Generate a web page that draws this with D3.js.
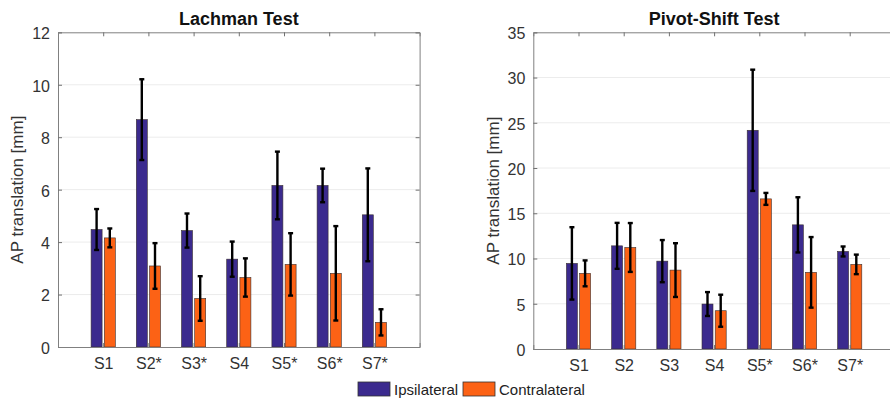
<!DOCTYPE html>
<html>
<head>
<meta charset="utf-8">
<script src="https://cdn.jsdelivr.net/npm/d3@7"></script>
<style>
  body { margin: 0; background: #fff; }
  text { font-family: "Liberation Sans", Arial, sans-serif; }
</style>
</head>
<body>
<div id="chart"></div>
<script>
// data
var lachmanCats = ['S1', 'S2*', 'S3*', 'S4', 'S5*', 'S6*', 'S7*'];
var lachmanIpsi = [4.48, 8.67, 4.44, 3.35, 6.16, 6.16, 5.04];
var lachmanIpsiErr = [0.78, 1.54, 0.65, 0.67, 1.29, 0.64, 1.77];
var lachmanContra = [4.16, 3.09, 1.85, 2.65, 3.15, 2.81, 0.94];
var lachmanContraErr = [0.36, 0.87, 0.85, 0.73, 1.19, 1.8, 0.5];
var lachmanTicks = [0, 2, 4, 6, 8, 10, 12];

var pivotCats = ['S1', 'S2', 'S3', 'S4', 'S5*', 'S6*', 'S7*'];
var pivotIpsi = [9.46, 11.4, 9.71, 4.97, 24.17, 13.72, 10.78];
var pivotIpsiErr = [4.0, 2.54, 2.33, 1.32, 6.7, 3.05, 0.55];
var pivotContra = [8.36, 11.22, 8.72, 4.23, 16.59, 8.47, 9.35];
var pivotContraErr = [1.43, 2.7, 2.97, 1.77, 0.66, 3.9, 1.08];
var pivotTicks = [0, 5, 10, 15, 20, 25, 30, 35];

var seriesNames = ['Ipsilateral', 'Contralateral'];
var colors = ['#3b2a8e', '#fc6215'];

var width = 890, height = 401;
var svg = d3.select('#chart').append('svg')
  .attr('width', width).attr('height', height);

function drawPanel(opts) {
  var x = d3.scaleLinear().domain([0, 8]).range([opts.x0, opts.x0 + 8 * 45.2]);
  var y = d3.scaleLinear().domain([0, opts.ymax]).range([opts.y1, opts.y0]);
  var g = svg.append('g');
  var x1 = opts.x0 + 8 * 45.2;

  // grid
  g.selectAll('.grid').data(opts.ticks.slice(1, -1)).enter().append('line')
    .attr('x1', opts.x0).attr('x2', x1)
    .attr('y1', function(d) { return y(d); }).attr('y2', function(d) { return y(d); })
    .attr('stroke', '#ececec').attr('stroke-width', 1);

  var bw = 11, off = 6.6;
  var series = [
    { vals: opts.ipsi, err: opts.ipsiErr, dx: -off, color: colors[0] },
    { vals: opts.contra, err: opts.contraErr, dx: off, color: colors[1] }
  ];
  series.forEach(function(s) {
    g.selectAll(null).data(s.vals).enter().append('rect')
      .attr('x', function(d, i) { return x(i + 1) + s.dx - bw / 2; })
      .attr('y', function(d) { return y(d); })
      .attr('width', bw)
      .attr('height', function(d) { return y(0) - y(d); })
      .attr('fill', s.color)
      .attr('stroke', '#3a3030').attr('stroke-width', 0.6);
  });
  series.forEach(function(s) {
    var eg = g.selectAll(null).data(s.vals).enter().append('g');
    eg.append('line')
      .attr('x1', function(d, i) { return x(i + 1) + s.dx; })
      .attr('x2', function(d, i) { return x(i + 1) + s.dx; })
      .attr('y1', function(d, i) { return y(d + s.err[i]); })
      .attr('y2', function(d, i) { return y(d - s.err[i]); })
      .attr('stroke', '#000').attr('stroke-width', 2.4);
    [1, -1].forEach(function(sign) {
      eg.append('line')
        .attr('x1', function(d, i) { return x(i + 1) + s.dx - 2.5; })
        .attr('x2', function(d, i) { return x(i + 1) + s.dx + 2.5; })
        .attr('y1', function(d, i) { return y(d + sign * s.err[i]); })
        .attr('y2', function(d, i) { return y(d + sign * s.err[i]); })
        .attr('stroke', '#000').attr('stroke-width', 2.4);
    });
  });

  // axes box
  var axL = d3.axisLeft(y).tickValues(opts.ticks).tickSize(-4).tickPadding(8);
  var axR = d3.axisRight(y).tickValues(opts.ticks).tickSize(-4).tickFormat('');
  var axB = d3.axisBottom(x).tickValues(d3.range(1, 8)).tickSize(-4).tickPadding(11)
    .tickFormat(function(d) { return opts.cats[d - 1]; });
  var axT = d3.axisTop(x).tickValues(d3.range(1, 8)).tickSize(-4).tickFormat('');

  var gl = g.append('g').attr('transform', 'translate(' + opts.x0 + ',0)').call(axL);
  g.append('g').attr('transform', 'translate(' + x1 + ',0)').call(axR);
  var gb = g.append('g').attr('transform', 'translate(0,' + opts.y1 + ')').call(axB);
  g.append('g').attr('transform', 'translate(0,' + opts.y0 + ')').call(axT);
  g.selectAll('.domain').attr('stroke', '#808080');
  g.selectAll('.tick line').attr('stroke', '#707070');
  gl.selectAll('text').attr('font-size', 16).attr('fill', '#333').attr('dy', '0.4em');
  gb.selectAll('text').attr('font-size', 16).attr('fill', '#333');

  g.append('text')
    .attr('x', (opts.x0 + x1) / 2).attr('y', 25)
    .attr('text-anchor', 'middle').attr('font-weight', 'bold')
    .attr('font-size', 18).attr('fill', '#111')
    .text(opts.title);

  g.append('text')
    .attr('transform', 'translate(' + opts.labelX + ',' + (opts.y0 + opts.y1) / 2 + ') rotate(-90)')
    .attr('text-anchor', 'middle').attr('font-size', 17).attr('fill', '#333')
    .text('AP translation [mm]');
}

drawPanel({
  title: 'Lachman Test', cats: lachmanCats, ticks: lachmanTicks, ymax: 12,
  ipsi: lachmanIpsi, ipsiErr: lachmanIpsiErr, contra: lachmanContra, contraErr: lachmanContraErr,
  x0: 58, y0: 32.3, y1: 347, labelX: 23
});
drawPanel({
  title: 'Pivot-Shift Test', cats: pivotCats, ticks: pivotTicks, ymax: 35,
  ipsi: pivotIpsi, ipsiErr: pivotIpsiErr, contra: pivotContra, contraErr: pivotContraErr,
  x0: 533.3, y0: 32.3, y1: 349, labelX: 499
});

// legend
var legend = svg.append('g');
var legendX = [358, 463];
seriesNames.forEach(function(name, i) {
  legend.append('rect')
    .attr('x', legendX[i]).attr('y', 382).attr('width', 32).attr('height', 14)
    .attr('fill', colors[i]).attr('stroke', '#333').attr('stroke-width', 0.8);
  legend.append('text')
    .attr('x', legendX[i] + 36).attr('y', 395)
    .attr('font-size', 15).attr('fill', '#222')
    .text(name);
});
</script>
</body>
</html>
